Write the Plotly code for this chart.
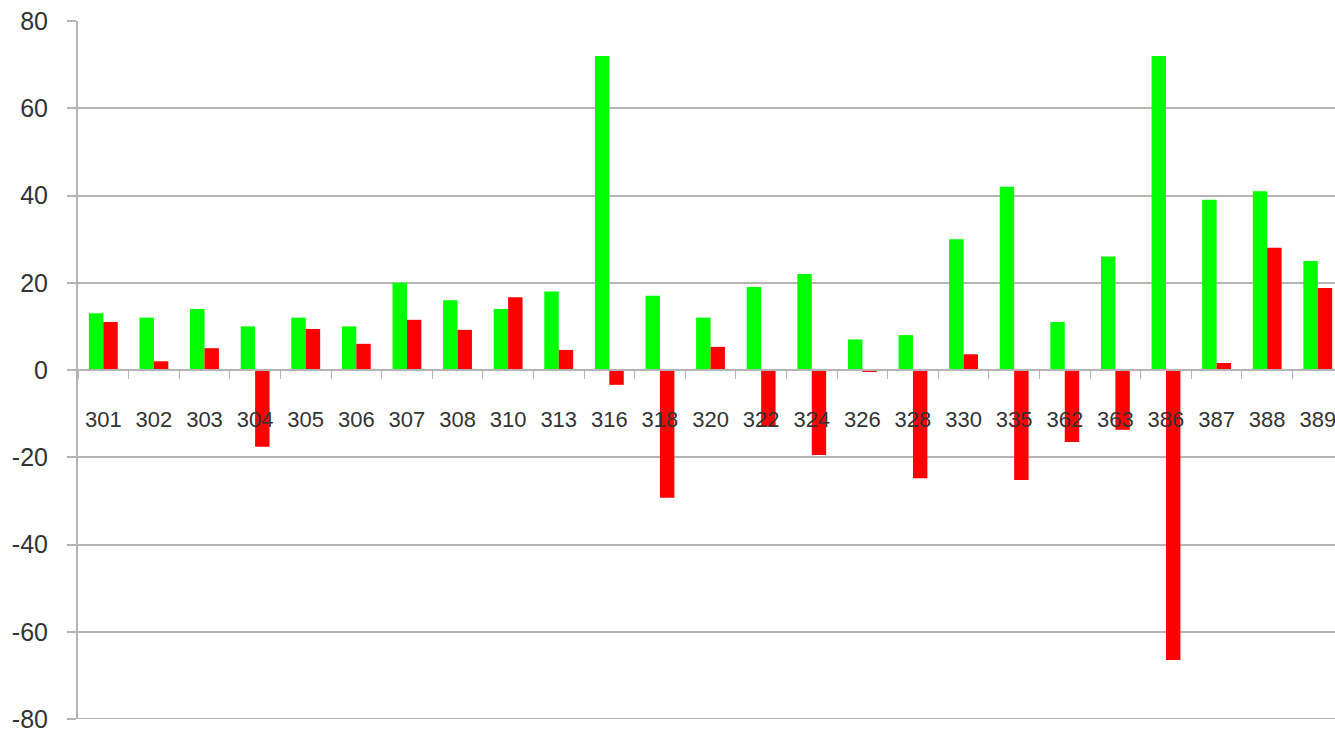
import plotly.graph_objects as go

categories = ["301", "302", "303", "304", "305", "306", "307", "308", "310", "313",
              "316", "318", "320", "322", "324", "326", "328", "330", "335", "362",
              "363", "386", "387", "388", "389"]
green_values = [13, 12, 14, 10, 12, 10, 20, 16, 14, 18,
                72, 17, 12, 19, 22, 7, 8, 30, 42, 11,
                26, 72, 39, 41, 25]
red_values = [11, 2, 5, -17.6, 9.4, 6, 11.5, 9.2, 16.7, 4.6,
              -3.4, -29.3, 5.3, -13, -19.5, -0.4, -24.8, 3.6, -25.2, -16.5,
              -13.7, -66.5, 1.6, 28, 18.8]
y_ticks = [-80, -60, -40, -20, 0, 20, 40, 60, 80]

fig = go.Figure()
fig.add_trace(go.Bar(x=categories, y=green_values, marker=dict(color="#00ff00", line=dict(width=0)),
                     showlegend=False))
fig.add_trace(go.Bar(x=categories, y=red_values, marker=dict(color="#ff0000", line=dict(width=0)),
                     showlegend=False))

# bottom gridline (plotly drops the gridline on the range edge)
fig.add_shape(type="line", xref="paper", yref="y", x0=0, x1=1, y0=y_ticks[0], y1=y_ticks[0],
              line=dict(color="#b4b4b4", width=2), layer="below")

fig.update_layout(
    width=1335, height=731,
    margin=dict(l=78, r=0, t=21, b=12, autoexpand=False),
    plot_bgcolor="white", paper_bgcolor="white",
    barmode="group", bargap=0.43, bargroupgap=0,
    xaxis=dict(
        type="category", range=[-0.5, 24.34],
        anchor="free", position=0.5,
        showline=True, linecolor="#b4b4b4", linewidth=2,
        ticks="outside", tickson="boundaries", ticklen=8, tickcolor="#b4b4b4", tickwidth=1,
        showgrid=False, automargin=False,
        ticklabelstandoff=30, ticklabeloverflow="allow",
        tickfont=dict(family="Liberation Sans, Arial, sans-serif", size=22, color="#333333"),
    ),
    yaxis=dict(
        range=[-80, 80], tickvals=y_ticks, ticktext=[str(v) for v in y_ticks],
        showgrid=True, gridcolor="#b4b4b4", gridwidth=2,
        zeroline=True, zerolinecolor="#b4b4b4", zerolinewidth=2,
        showline=True, linecolor="#b4b4b4", linewidth=2,
        ticks="outside", ticklen=9, tickcolor="#b4b4b4", tickwidth=2,
        ticklabelstandoff=14, ticklabeloverflow="allow",
        automargin=False,
        tickfont=dict(family="Liberation Sans, Arial, sans-serif", size=25, color="#333333"),
    ),
)

fig.write_html("out.html", config={"displayModeBar": False},
               post_script="document.body.style.margin='0';document.body.style.overflow='hidden';")
